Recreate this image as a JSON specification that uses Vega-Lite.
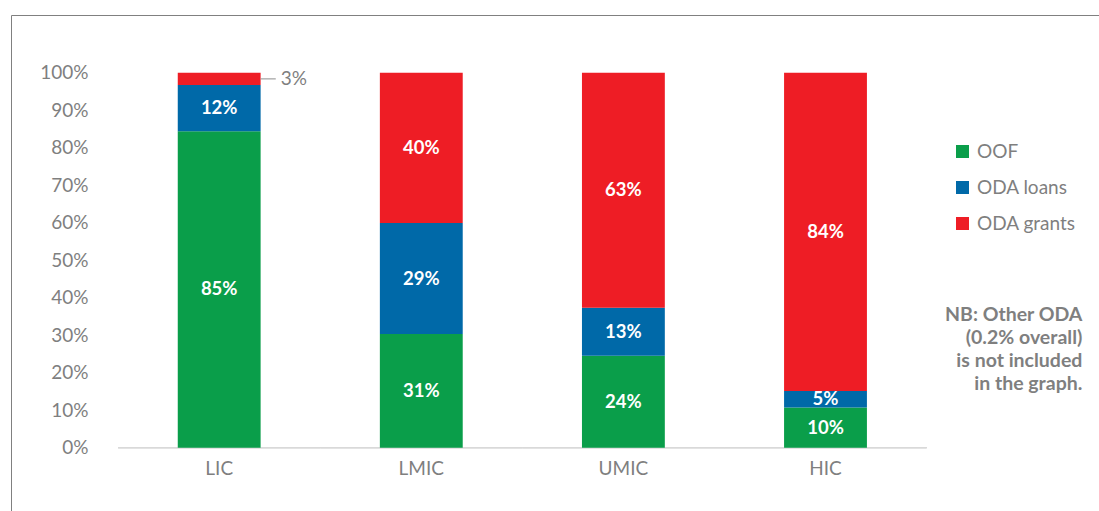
{
  "$schema": "https://vega.github.io/schema/vega-lite/v6.json",
  "width": 1088,
  "height": 496,
  "autosize": {"type": "none"},
  "padding": {"left": 11, "top": 15, "right": 0, "bottom": 0},
  "background": "white",
  "config": {
    "font": "Lato",
    "view": {"stroke": "#808080", "strokeWidth": 1},
    "axis": {"labelFont": "Lato", "labelColor": "#7f7f7f", "labelFontSize": 19, "grid": false, "ticks": false, "tickSize": 0, "domain": false, "title": null}
  },
  "data": {
    "values": [
      {"cat": "LIC", "type": "OOF", "value": 84.4, "label": "85%"},
      {"cat": "LIC", "type": "ODA loans", "value": 12.3, "label": "12%"},
      {"cat": "LIC", "type": "ODA grants", "value": 3.3, "label": "3%"},
      {"cat": "LMIC", "type": "OOF", "value": 30.3, "label": "31%"},
      {"cat": "LMIC", "type": "ODA loans", "value": 29.6, "label": "29%"},
      {"cat": "LMIC", "type": "ODA grants", "value": 40.1, "label": "40%"},
      {"cat": "UMIC", "type": "OOF", "value": 24.5, "label": "24%"},
      {"cat": "UMIC", "type": "ODA loans", "value": 12.8, "label": "13%"},
      {"cat": "UMIC", "type": "ODA grants", "value": 62.7, "label": "63%"},
      {"cat": "HIC", "type": "OOF", "value": 10.7, "label": "10%"},
      {"cat": "HIC", "type": "ODA loans", "value": 4.45, "label": "5%"},
      {"cat": "HIC", "type": "ODA grants", "value": 84.85, "label": "84%"}
    ]
  },
  "layer": [
    {
      "mark": {"type": "rect", "fillOpacity": 0, "stroke": "#d9d9d9", "strokeWidth": 1},
      "encoding": {
        "x": {"field": "cat", "type": "nominal", "title": null,
          "scale": {"domain": ["LIC", "LMIC", "UMIC", "HIC"], "paddingInner": 0, "paddingOuter": 0.6917, "align": 0.3832},
          "axis": {"orient": "bottom", "offset": -43, "labelBaseline": "middle", "labelPadding": 0, "labelAngle": 0}},
        "y": {"datum": 0, "type": "quantitative", "title": null},
        "y2": {"datum": 0}
      }
    },
    {
      "mark": {"type": "bar", "width": {"band": 0.41}},
      "encoding": {
        "x": {"field": "cat", "type": "nominal", "title": null},
        "y": {"field": "value", "type": "quantitative", "stack": "zero", "title": null,
          "scale": {"domain": [-16.88, 115.39], "nice": false, "zero": false},
          "axis": {"values": [0, 10, 20, 30, 40, 50, 60, 70, 80, 90, 100], "labelExpr": "datum.value + '%'", "offset": -81, "labelPadding": 4}},
        "color": {"field": "type", "type": "nominal", "title": null,
          "scale": {"domain": ["OOF", "ODA loans", "ODA grants"], "range": ["#0a9e4a", "#0069a8", "#ee1d25"]},
          "legend": {"orient": "none", "legendX": 942, "legendY": 127, "symbolType": "square", "symbolSize": 169, "symbolStrokeWidth": 0, "labelFontSize": 19, "labelColor": "#7f7f7f", "labelFont": "Lato", "rowPadding": 16, "labelOffset": 5, "padding": 0}},
        "order": {"field": "type", "sort": "descending"}
      }
    },
    {
      "mark": {"type": "text", "color": "white", "fontWeight": "bold", "fontSize": 18.5, "baseline": "middle", "font": "Lato"},
      "encoding": {
        "x": {"field": "cat", "type": "nominal", "title": null},
        "y": {"field": "value", "type": "quantitative", "stack": "zero", "bandPosition": 0.5, "title": null},
        "detail": {"field": "type"},
        "order": {"field": "type", "sort": "descending"},
        "text": {"condition": {"test": "datum.value >= 4", "field": "label"}, "value": ""}
      }
    },
    {
      "mark": {"type": "rule", "stroke": "#8c8c8c", "strokeWidth": 1},
      "encoding": {
        "x": {"field": "cat", "type": "nominal", "bandPosition": 0.705, "title": null},
        "x2": {"field": "cat", "bandPosition": 0.78},
        "y": {"field": "value", "type": "quantitative", "stack": "zero", "bandPosition": 0.5, "title": null},
        "detail": {"field": "type"},
        "order": {"field": "type", "sort": "descending"},
        "strokeOpacity": {"condition": {"test": "datum.value < 4", "value": 1}, "value": 0}
      }
    },
    {
      "mark": {"type": "text", "color": "#7f7f7f", "fontSize": 19, "baseline": "middle", "align": "left", "font": "Lato"},
      "encoding": {
        "x": {"field": "cat", "type": "nominal", "bandPosition": 0.804, "title": null},
        "y": {"field": "value", "type": "quantitative", "stack": "zero", "bandPosition": 0.5, "title": null},
        "detail": {"field": "type"},
        "order": {"field": "type", "sort": "descending"},
        "text": {"condition": {"test": "datum.value < 4", "field": "label"}, "value": ""}
      }
    },
    {
      "data": {"values": [{"note": ["NB: Other ODA", "(0.2% overall)", "is not included", "in the graph."]}]},
      "mark": {"type": "text", "color": "#7f7f7f", "fontSize": 19.5, "fontWeight": "bold", "baseline": "middle", "align": "right", "lineHeight": 23, "font": "Lato"},
      "encoding": {
        "x": {"datum": "HIC", "type": "nominal", "bandPosition": 1.771, "title": null},
        "y": {"datum": 35.4, "type": "quantitative", "title": null},
        "text": {"field": "note"}
      }
    }
  ]
}
